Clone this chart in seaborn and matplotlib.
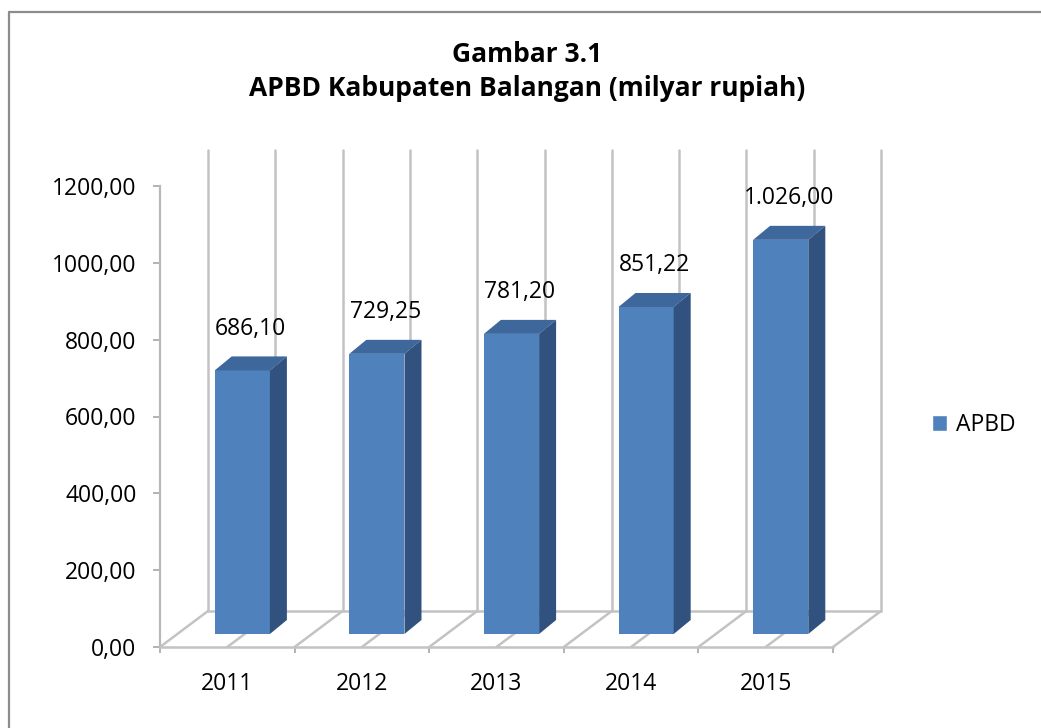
import matplotlib
matplotlib.use('Agg')
import seaborn as sns
import matplotlib.pyplot as plt
from matplotlib.patches import Polygon, Patch
from matplotlib.lines import Line2D

# data
years = ['2011', '2012', '2013', '2014', '2015']
apbd = [686.10, 729.25, 781.20, 851.22, 1026.00]
value_labels = ['686,10', '729,25', '781,20', '851,22', '1.026,00']
y_ticks = [0, 200, 400, 600, 800, 1000, 1200]
y_tick_labels = ['0,00', '200,00', '400,00', '600,00', '800,00', '1000,00', '1200,00']

sns.set_style('white')
plt.rcParams['font.family'] = ['Open Sans', 'DejaVu Sans']
plt.rcParams['text.color'] = 'black'

FRONT = '#4f81bd'
TOP = '#3e679c'
SIDE = '#31527f'
GRID = '#c3c3c3'
FS = 16.5

fig = plt.figure(figsize=(10.41, 7.28), dpi=100)
ax = fig.add_axes([160 / 1041, 81 / 728, 673 / 1041, 461 / 728])

sns.barplot(x=years, y=apbd, ax=ax, color=FRONT, saturation=1, width=0.41,
            edgecolor='none', zorder=3)
ax.set_xlim(-0.5, 4.5)
ax.set_ylim(0, 1200)


def shift(xd, yd, dpx, dpy):
    # move a data point by a pixel offset, return data coords
    px, py = ax.transData.transform((xd, yd))
    return tuple(ax.transData.inverted().transform((px + dpx, py + dpy)))


# walls and floor of the 3D box
WALL_DX, WALL_DY = 48, 36
grid_x = [i / 2 - 0.5 for i in range(11)]
for xv in grid_x:
    b0 = shift(xv, 0, WALL_DX, WALL_DY)
    b1 = shift(xv, 1200, WALL_DX, WALL_DY)
    ax.add_line(Line2D([b0[0], b1[0]], [b0[1], b1[1]], color=GRID, lw=1.8,
                       zorder=1, clip_on=False))
    ax.add_line(Line2D([xv, b0[0]], [0, b0[1]], color=GRID, lw=1.8,
                       zorder=1, clip_on=False))
bl = shift(-0.5, 0, WALL_DX, WALL_DY)
br = shift(4.5, 0, WALL_DX, WALL_DY)
ax.add_line(Line2D([bl[0], br[0]], [bl[1], br[1]], color=GRID, lw=1.8,
                   zorder=1, clip_on=False))

# 3D faces of the bars
BAR_DX, BAR_DY = 15, 13
DEPTH_DX, DEPTH_DY = 17, 14
for p, lab in zip(ax.patches, value_labels):
    x0, w, h = p.get_x(), p.get_width(), p.get_height()
    fx, fy = shift(x0, 0, BAR_DX, BAR_DY)
    p.set_xy((fx, fy))
    p.set_clip_on(False)
    fl = (fx, fy + h)
    fr = (fx + w, fy + h)
    fb = (fx + w, fy)
    tl = shift(*fl, DEPTH_DX, DEPTH_DY)
    tr = shift(*fr, DEPTH_DX, DEPTH_DY)
    tb = shift(*fb, DEPTH_DX, DEPTH_DY)
    ax.add_patch(Polygon([fl, fr, tr, tl], closed=True, facecolor=TOP,
                         edgecolor='none', zorder=3, clip_on=False))
    ax.add_patch(Polygon([fb, fr, tr, tb], closed=True, facecolor=SIDE,
                         edgecolor='none', zorder=3, clip_on=False))
    ax.annotate(lab, xy=(fx + w / 2, fy + h), xytext=(6, 30),
                textcoords='offset points', ha='center', va='center',
                fontsize=FS, color='black')

# axes styling
ax.set_yticks(y_ticks)
ax.set_yticklabels(y_tick_labels)
ax.set_xticks([i - 0.5 for i in range(6)], minor=True)
ax.tick_params(axis='y', left=True, length=5, width=1.2, color='#a6a6a6',
               pad=12, labelsize=FS, labelcolor='black')
ax.tick_params(axis='x', which='major', bottom=True, length=0, pad=18,
               labelsize=FS, labelcolor='black')
ax.tick_params(axis='x', which='minor', bottom=True, length=4.5, width=1.2,
               color='#a6a6a6')
ax.set_xlabel('')
ax.set_ylabel('')
for s in ['top', 'right']:
    ax.spines[s].set_visible(False)
ax.spines['left'].set_color('#b8b8b8')
ax.spines['left'].set_linewidth(1.6)
ax.spines['bottom'].set_color(GRID)
ax.spines['bottom'].set_linewidth(1.8)
ax.patch.set_alpha(0)

# title
fig.text(0.506, 1 - 62 / 728, 'Gambar 3.1', ha='center', va='baseline',
         fontsize=19, fontweight='bold', color='black')
fig.text(0.506, 1 - 96 / 728, 'APBD Kabupaten Balangan (milyar rupiah)',
         ha='center', va='baseline', fontsize=19, fontweight='bold',
         color='black')

# legend
fig.legend(handles=[Patch(facecolor=FRONT, label='APBD')], loc='center left',
           bbox_to_anchor=(932 / 1041, 1 - 425 / 728), frameon=False,
           fontsize=FS, handlelength=0.65, handleheight=0.65,
           handletextpad=0.4, borderpad=0, borderaxespad=0,
           labelcolor='black')

# chart border (top and left visible)
fig.add_artist(Line2D([8.5 / 1041, 1], [1 - 11.5 / 728] * 2, color='#8c8c8c',
                      lw=1.6, transform=fig.transFigure))
fig.add_artist(Line2D([8.5 / 1041] * 2, [0, 1 - 11.5 / 728], color='#8c8c8c',
                      lw=1.6, transform=fig.transFigure))

fig.savefig('out.png', dpi=100, facecolor='white')
